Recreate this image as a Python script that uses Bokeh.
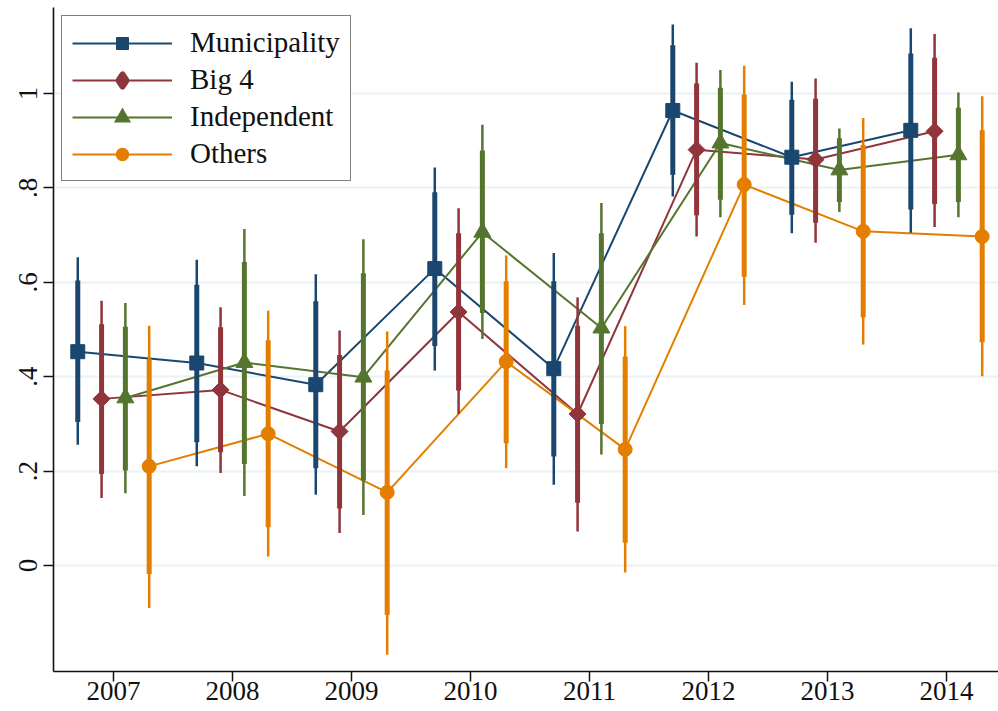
import math
from bokeh.plotting import figure
from bokeh.models import FixedTicker, Legend, LegendItem, ColumnDataSource
from bokeh.embed import file_html
from bokeh.resources import INLINE

# ---------------- data ----------------
years = [2007, 2008, 2009, 2010, 2011, 2012, 2013, 2014]
series_names = ["Municipality", "Big 4", "Independent", "Others"]
offsets = [-0.3, -0.1, 0.1, 0.3]

muni_est = [0.453, 0.429, 0.383, 0.629, 0.417, 0.964, 0.865, 0.922]
muni_lo90 = [0.304, 0.261, 0.206, 0.465, 0.231, 0.828, 0.743, 0.754]
muni_hi90 = [0.604, 0.595, 0.560, 0.791, 0.602, 1.102, 0.987, 1.085]
muni_lo95 = [0.256, 0.210, 0.150, 0.413, 0.171, 0.782, 0.704, 0.705]
muni_hi95 = [0.653, 0.648, 0.617, 0.843, 0.662, 1.146, 1.025, 1.138]

big4_est = [0.353, 0.372, 0.284, 0.537, 0.321, 0.881, 0.860, 0.920]
big4_lo90 = [0.194, 0.240, 0.121, 0.371, 0.133, 0.742, 0.726, 0.766]
big4_hi90 = [0.511, 0.505, 0.446, 0.704, 0.508, 1.021, 0.989, 1.076]
big4_lo95 = [0.143, 0.196, 0.069, 0.321, 0.072, 0.697, 0.684, 0.717]
big4_hi95 = [0.561, 0.547, 0.498, 0.757, 0.568, 1.065, 1.032, 1.126]

ind_est = [0.355, 0.430, 0.399, 0.706, 0.503, 0.895, 0.838, 0.870]
ind_lo90 = [0.201, 0.215, 0.180, 0.535, 0.300, 0.775, 0.770, 0.770]
ind_hi90 = [0.506, 0.643, 0.619, 0.879, 0.704, 1.012, 0.905, 0.970]
ind_lo95 = [0.153, 0.147, 0.107, 0.480, 0.235, 0.738, 0.749, 0.738]
ind_hi95 = [0.556, 0.713, 0.691, 0.934, 0.768, 1.050, 0.926, 1.002]

oth_est = [0.210, 0.279, 0.155, 0.432, 0.246, 0.807, 0.708, 0.697]
oth_lo90 = [-0.018, 0.081, -0.105, 0.259, 0.048, 0.612, 0.526, 0.473]
oth_hi90 = [0.438, 0.477, 0.413, 0.602, 0.443, 0.998, 0.891, 0.922]
oth_lo95 = [-0.090, 0.019, -0.189, 0.206, -0.015, 0.552, 0.468, 0.401]
oth_hi95 = [0.508, 0.540, 0.496, 0.657, 0.507, 1.059, 0.948, 0.994]

y_ticks = [0, 0.2, 0.4, 0.6, 0.8, 1.0]
y_tick_labels = ["0", ".2", ".4", ".6", ".8", "1"]

colors = ["#1a476f", "#90353b", "#55752f", "#e37e00"]
markers = ["square", "square", "triangle", "circle"]
marker_sizes = [14, 12, 17, 14]
marker_angles = [0, math.pi / 4, 0, 0]
# legend glyphs (Bokeh never rotates legend markers, so the diamond uses Bokeh's diamond);
# drawn small beneath the real markers so they only show in the legend
legend_markers = ["square", "diamond", "triangle", "circle"]
legend_marker_lw = [1, 6, 3, 1.5]
legend_marker_join = ["miter", "round", "miter", "miter"]
legend_marker_hidden_size = [4, 4, 2, 4]

all_series = [
    (muni_est, muni_lo90, muni_hi90, muni_lo95, muni_hi95),
    (big4_est, big4_lo90, big4_hi90, big4_lo95, big4_hi95),
    (ind_est, ind_lo90, ind_hi90, ind_lo95, ind_hi95),
    (oth_est, oth_lo90, oth_hi90, oth_lo95, oth_hi95),
]

FONT = "Liberation Serif"

p = figure(
    width=998, height=711,
    x_range=(2006.496, 2014.437), y_range=(-0.2246, 1.1822),
    output_backend="svg", toolbar_location=None,
    min_border_left=53, min_border_right=0, min_border_top=7, min_border_bottom=40,
    background_fill_color="white", border_fill_color="white",
)
p.outline_line_color = None

# grid
p.xgrid.grid_line_color = None
p.ygrid.ticker = FixedTicker(ticks=y_ticks)
p.ygrid.grid_line_color = "#eaf2f3"
p.ygrid.grid_line_width = 2

# axes
for ax in (p.xaxis[0], p.yaxis[0]):
    ax.axis_line_color = "#111111"
    ax.axis_line_width = 1.6
    ax.major_tick_line_color = "#111111"
    ax.major_tick_line_width = 1.5
    ax.major_tick_out = 10
    ax.major_tick_in = 0
    ax.minor_tick_out = 0
    ax.minor_tick_in = 0
    ax.major_label_text_font = FONT
    ax.major_label_text_font_size = "27px"
    ax.major_label_text_color = "#111111"

p.xaxis.ticker = FixedTicker(ticks=years)
p.xaxis.major_label_standoff = 0
p.yaxis.ticker = FixedTicker(ticks=y_ticks)
p.yaxis.major_label_overrides = {t: l for t, l in zip(y_ticks, y_tick_labels)}
p.yaxis.major_label_orientation = "vertical"
p.yaxis.major_label_standoff = 6

line_renderers = []
legend_marker_renderers = []
sources = []
for i, (est, lo90, hi90, lo95, hi95) in enumerate(all_series):
    xs = [y + offsets[i] for y in years]
    src = ColumnDataSource(dict(x=xs, est=est, lo90=lo90, hi90=hi90, lo95=lo95, hi95=hi95))
    sources.append(src)
    line_renderers.append(p.line("x", "est", source=src, line_color=colors[i], line_width=2))

for i, src in enumerate(sources):
    p.segment(x0="x", y0="lo95", x1="x", y1="hi95", source=src, line_color=colors[i], line_width=2.5)
    p.segment(x0="x", y0="lo90", x1="x", y1="hi90", source=src, line_color=colors[i], line_width=5)

for i, src in enumerate(sources):
    legend_marker_renderers.append(
        p.scatter("x", "est", source=src, marker=legend_markers[i], size=legend_marker_hidden_size[i],
                  fill_color=colors[i], line_color=colors[i], line_width=legend_marker_lw[i],
                  line_join=legend_marker_join[i]))
    p.scatter("x", "est", source=src, marker=markers[i], size=marker_sizes[i],
              angle=marker_angles[i], fill_color=colors[i], line_color=colors[i], line_width=1)

legend = Legend(
    items=[LegendItem(label=series_names[i], renderers=[line_renderers[i], legend_marker_renderers[i]])
           for i in range(4)],
    location="top_left", margin=8, padding=10, spacing=4,
    glyph_width=100, glyph_height=30, label_height=30, label_standoff=18,
    label_text_font=FONT, label_text_font_size="29px", label_text_color="#111111",
    border_line_color="black", border_line_width=1.5,
    background_fill_color="white", background_fill_alpha=1.0,
)
p.add_layout(legend, "center")

open("out.html", "w").write(file_html(p, INLINE))
